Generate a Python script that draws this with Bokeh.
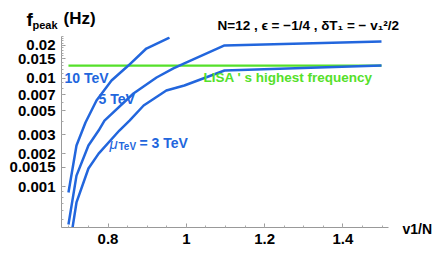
from bokeh.plotting import figure
from bokeh.models import FixedTicker, CustomJSTickFormatter, Label, Range1d
from bokeh.embed import file_html
from bokeh.resources import INLINE
import math

# ---- data ----
x_10tev = [0.699, 0.7195, 0.7425, 0.7706, 0.809, 0.852, 0.898, 0.957]
f_10tev = [0.00088, 0.00239, 0.00389, 0.00621, 0.00948, 0.01303, 0.0187, 0.0236]

x_5tev = [0.699, 0.7195, 0.750, 0.776, 0.791, 0.865, 0.924, 0.967, 0.995, 1.0976, 1.4986]
f_5tev = [0.000447, 0.00126, 0.00239, 0.00328, 0.00405, 0.00720, 0.01011, 0.01225, 0.01361, 0.01995, 0.02168]

x_3tev = [0.709, 0.7195, 0.750, 0.776, 0.829, 0.855, 0.891, 0.949, 0.995, 1.0976, 1.4986]
f_3tev = [0.00041, 0.000713, 0.001466, 0.00201, 0.00328, 0.00405, 0.00558, 0.00767, 0.00853, 0.01173, 0.01303]

lisa_x = [0.699, 1.4986]
lisa_f = [0.01303, 0.01303]

x_ticks = [0.8, 1.0, 1.2, 1.4]
y_ticks = [0.001, 0.0015, 0.002, 0.003, 0.005, 0.007, 0.01, 0.015, 0.02]

BLUE = "#2266dd"
GREEN = "#55e02a"
FONT = "Liberation Sans"

X0, X1 = 0.6812, 1.5165
Y0, Y1 = 0.000419, 0.02413
FL, FR, FT, FB = 60, 387, 36, 227   # frame edges in page pixels
W, H = 442, 259

def dx(px):
    return X0 + (px - FL) / (FR - FL) * (X1 - X0)
def dy(py):
    l0, l1 = math.log10(Y0), math.log10(Y1)
    return 10 ** (l0 + (FB - py) / (FB - FT) * (l1 - l0))

p = figure(width=W, height=H, y_axis_type="log", output_backend="svg",
           toolbar_location=None, x_range=Range1d(X0, X1), y_range=Range1d(Y0, Y1),
           frame_width=FR - FL, frame_height=FB - FT,
           min_border_left=FL, min_border_right=W - FR,
           min_border_top=FT, min_border_bottom=H - FB)
p.outline_line_color = None
p.grid.visible = False

for ax in (p.xaxis[0], p.yaxis[0]):
    ax.axis_line_color = "#999999"
    ax.major_tick_line_color = "#999999"
    ax.minor_tick_line_color = "#aaaaaa"
    ax.major_tick_in = 4
    ax.major_tick_out = 0
    ax.minor_tick_in = 2
    ax.minor_tick_out = 0
    ax.major_label_text_font = FONT
    ax.major_label_text_font_style = "bold"
    ax.major_label_text_font_size = "15px"
    ax.major_label_text_color = "black"
    ax.formatter = CustomJSTickFormatter(code="return tick.toString();")

minor_x = [0.7 + 0.05 * i for i in range(17)]
p.xaxis[0].ticker = FixedTicker(ticks=x_ticks, minor_ticks=minor_x)
p.xaxis[0].major_label_standoff = 6
minor_y = [k * 1e-4 for k in range(4, 10)] + [k * 1e-3 for k in range(1, 10)] + [k * 1e-3 for k in range(10, 25)]
p.yaxis[0].ticker = FixedTicker(ticks=y_ticks, minor_ticks=minor_y)
p.yaxis[0].major_label_standoff = 6

p.line(lisa_x, lisa_f, line_color=GREEN, line_width=2.2)
for xs, fs in ((x_10tev, f_10tev), (x_5tev, f_5tev), (x_3tev, f_3tev)):
    p.line(xs, fs, line_color=BLUE, line_width=2.5)

def lab(text, px, py, size, color="black", style="bold", place=None):
    l = Label(x=dx(px), y=dy(py), text=text, text_font=FONT,
              text_font_size=size, text_font_style=style, text_color=color,
              text_align="left", text_baseline="middle")
    if place is None:
        p.add_layout(l)
    else:
        p.add_layout(l, place)

lab("10 TeV", 63, 77, "14px", BLUE)
lab("5 TeV", 97, 98, "14px", BLUE)
lab("μ", 108, 143, "15px", BLUE, "italic")
lab("TeV", 117, 146, "10px", BLUE)
lab("= 3 TeV", 138, 142, "14px", BLUE)
lab("LISA ' s  highest frequency", 202, 77, "13.5px", GREEN)

# texts outside the frame live in side panels (not clipped); spread so each
# panel's stacked size stays within its border
lab("f", 25, 19, "19px", place="left")
lab("(Hz)", 62, 18, "17px", place="above")
lab("N=12 , ϵ = −1/4 , δT₁ = − v₁²/2", 216, 25, "13.5px", place="above")
lab("peak", 31, 24, "11px", place="right")
lab("v1/N", 401, 228, "14px", place="right")

open("out.html", "w").write(file_html(p, INLINE))
